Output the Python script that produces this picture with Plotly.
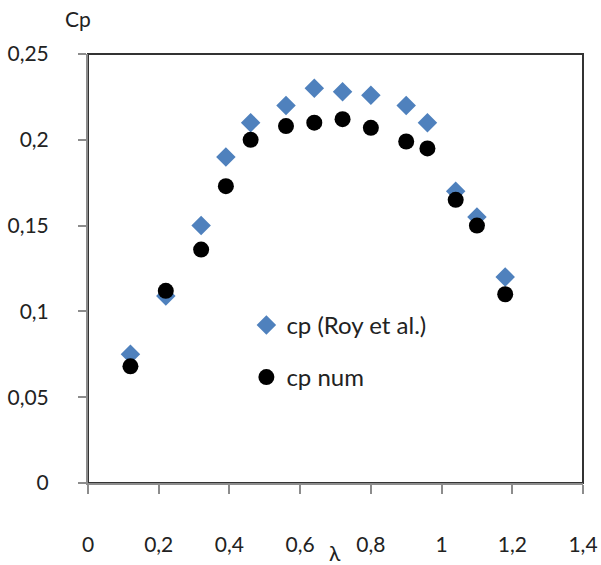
import plotly.graph_objects as go

lam = [0.12, 0.22, 0.32, 0.39, 0.46, 0.56, 0.64, 0.72, 0.80, 0.90, 0.96, 1.04, 1.10, 1.18]
cp_roy = [0.075, 0.109, 0.150, 0.190, 0.210, 0.220, 0.230, 0.228, 0.226, 0.220, 0.210, 0.170, 0.155, 0.120]
cp_num = [0.068, 0.112, 0.136, 0.173, 0.200, 0.208, 0.210, 0.212, 0.207, 0.199, 0.195, 0.165, 0.150, 0.110]

x_ticks = [0, 0.2, 0.4, 0.6, 0.8, 1.0, 1.2, 1.4]
x_labels = ["0", "0,2", "0,4", "0,6", "0,8", "1", "1,2", "1,4"]
y_ticks = [0, 0.05, 0.10, 0.15, 0.20, 0.25]
y_labels = ["0", "0,05", "0,1", "0,15", "0,2", "0,25"]

FONT = "Lato, 'Open Sans', sans-serif"

fig = go.Figure()
fig.add_trace(go.Scatter(x=lam, y=cp_roy, mode="markers", name="cp (Roy et al.)",
                         legendgroup="a",
                         marker=dict(symbol="diamond", size=15, color="#4F81BD")))
fig.add_trace(go.Scatter(x=lam, y=cp_num, mode="markers", name="cp num",
                         legendgroup="b",
                         marker=dict(symbol="circle", size=16, color="black")))

fig.add_shape(type="rect", xref="paper", yref="paper", x0=0, x1=1, y0=0, y1=1,
              line=dict(color="#333333", width=2), layer="below")

fig.update_layout(
    width=601, height=565,
    margin=dict(l=88, r=18, t=54, b=82, autoexpand=False),
    paper_bgcolor="white", plot_bgcolor="white",
    font=dict(family=FONT, size=21, color="#222222"),
    showlegend=True,
    legend=dict(x=0.32, y=0.42, xanchor="left", yanchor="top",
                bgcolor="rgba(0,0,0,0)", font=dict(size=24),
                tracegroupgap=18),
    xaxis=dict(range=[0, 1.4], tickvals=x_ticks, ticktext=x_labels,
               showgrid=False, zeroline=False, showline=True, linecolor="#8c8c8c",
               linewidth=2, ticks="outside", ticklen=9, tickcolor="#8c8c8c",
               tickwidth=2, ticklabelstandoff=33, automargin=False),
    yaxis=dict(range=[0, 0.25], tickvals=y_ticks, ticktext=y_labels,
               showgrid=False, zeroline=False, showline=True, linecolor="#8c8c8c",
               linewidth=2, ticks="outside", ticklen=8, tickcolor="#8c8c8c",
               tickwidth=2, ticklabelstandoff=25, automargin=False),
    annotations=[
        dict(text="Cp", xref="paper", yref="paper", x=(78 - 88) / 495, y=1.0,
             yshift=36, xanchor="center", yanchor="middle", showarrow=False,
             font=dict(size=21)),
        dict(text="λ", xref="paper", yref="paper", x=(335 - 88) / 495, y=0,
             yshift=-69, xanchor="center", yanchor="middle", showarrow=False,
             font=dict(size=21)),
    ],
)

fig.write_html("out.html", config={"displayModeBar": False},
               post_script="document.body.style.margin='0';")
